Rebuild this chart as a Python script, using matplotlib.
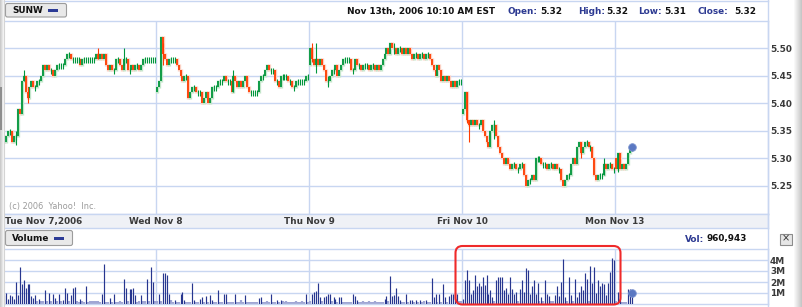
import numpy as np
import matplotlib
matplotlib.use("Agg")
import matplotlib.pyplot as plt
from matplotlib.patches import FancyBboxPatch, Rectangle

plt.rcParams['font.family'] = ['DejaVu Sans']

# ---------------- data ----------------
symbol = "SUNW"
header_time = "Nov 13th, 2006 10:10 AM EST"
quote_labels = ["Open:", "High:", "Low:", "Close:"]
quote_values = ["5.32", "5.32", "5.31", "5.32"]
last_volume_text = "960,943"
day_labels = ["Tue Nov 7,2006", "Wed Nov 8", "Thu Nov 9", "Fri Nov 10", "Mon Nov 13"]
price_ticks = [5.25, 5.30, 5.35, 5.40, 5.45, 5.50]
price_tick_labels = ["5.25", "5.30", "5.35", "5.40", "5.45", "5.50"]
vol_ticks = [1, 2, 3, 4]
vol_tick_labels = ["1M", "2M", "3M", "4M"]

day_opens = [5.34, 5.42, 5.47, 5.38, 5.30]

tue_close = [5.33, 5.34, 5.35, 5.35, 5.33, 5.34, 5.34, 5.39, 5.38, 5.44,
             5.45, 5.42, 5.41, 5.43, 5.44, 5.43, 5.43, 5.44, 5.44, 5.45,
             5.47, 5.46, 5.47, 5.46, 5.46, 5.45, 5.46, 5.47, 5.47, 5.47,
             5.47, 5.48, 5.49, 5.49, 5.48, 5.48, 5.48, 5.48, 5.48, 5.47,
             5.48, 5.48, 5.48, 5.48, 5.48, 5.48, 5.48, 5.49, 5.48, 5.49,
             5.48, 5.49, 5.47, 5.46, 5.47, 5.46, 5.46, 5.48, 5.48, 5.47,
             5.46, 5.48, 5.48, 5.46, 5.46, 5.47, 5.46, 5.47, 5.47, 5.46,
             5.47, 5.48, 5.48, 5.48, 5.48, 5.48, 5.48, 5.48]
wed_close = [5.43, 5.44, 5.52, 5.49, 5.48, 5.47, 5.48, 5.48, 5.48, 5.48,
             5.47, 5.46, 5.45, 5.44, 5.45, 5.45, 5.41, 5.42, 5.43, 5.43,
             5.42, 5.42, 5.42, 5.40, 5.41, 5.42, 5.40, 5.41, 5.43, 5.43,
             5.43, 5.44, 5.44, 5.44, 5.45, 5.44, 5.44, 5.44, 5.42, 5.45,
             5.44, 5.43, 5.44, 5.43, 5.44, 5.45, 5.43, 5.42, 5.42, 5.42,
             5.42, 5.42, 5.44, 5.45, 5.45, 5.46, 5.47, 5.46, 5.46, 5.46,
             5.44, 5.44, 5.43, 5.45, 5.45, 5.45, 5.45, 5.44, 5.44, 5.43,
             5.43, 5.44, 5.44, 5.44, 5.44, 5.44, 5.45, 5.45]
thu_close = [5.50, 5.48, 5.47, 5.48, 5.47, 5.48, 5.47, 5.46, 5.44, 5.44,
             5.45, 5.46, 5.46, 5.47, 5.45, 5.46, 5.47, 5.48, 5.48, 5.48,
             5.48, 5.46, 5.46, 5.48, 5.47, 5.47, 5.46, 5.47, 5.47, 5.47,
             5.46, 5.47, 5.47, 5.46, 5.47, 5.46, 5.47, 5.48, 5.49, 5.50,
             5.49, 5.51, 5.50, 5.50, 5.49, 5.50, 5.50, 5.49, 5.50, 5.49,
             5.50, 5.49, 5.48, 5.49, 5.49, 5.48, 5.49, 5.49, 5.48, 5.49,
             5.49, 5.48, 5.47, 5.46, 5.45, 5.47, 5.46, 5.44, 5.45, 5.44,
             5.45, 5.44, 5.43, 5.44, 5.43, 5.44, 5.44, 5.44]
fri_close = [5.39, 5.42, 5.37, 5.36, 5.37, 5.36, 5.37, 5.36, 5.36, 5.37,
             5.35, 5.34, 5.33, 5.32, 5.35, 5.36, 5.36, 5.34, 5.32, 5.31,
             5.30, 5.29, 5.30, 5.29, 5.28, 5.29, 5.29, 5.28, 5.28, 5.29,
             5.29, 5.27, 5.25, 5.26, 5.26, 5.27, 5.26, 5.30, 5.30, 5.30,
             5.29, 5.29, 5.29, 5.28, 5.29, 5.29, 5.28, 5.29, 5.28, 5.28,
             5.26, 5.25, 5.26, 5.27, 5.27, 5.29, 5.30, 5.29, 5.32, 5.33,
             5.31, 5.32, 5.33, 5.33, 5.32, 5.32, 5.30, 5.27, 5.26, 5.27,
             5.27, 5.27, 5.29, 5.28, 5.29, 5.29, 5.28, 5.28]
mon_close = [5.28, 5.31, 5.28, 5.29, 5.28, 5.29, 5.31, 5.32, 5.32]

# intrabar extremes that stick out beyond open/close (day, bar, low, high)
wick_day = [0, 0, 0, 0, 0, 1, 1, 2, 2, 2, 2, 3, 3, 3, 3, 3, 4]
wick_bar = [6, 10, 12, 48, 61, 3, 39, 1, 3, 9, 43, 2, 3, 16, 60, 72, 1]
wick_low = [5.325, 5.44, 5.40, 5.48, 5.47, 5.47, 5.42, 5.475, 5.455, 5.43, 5.49,
            5.365, 5.33, 5.335, 5.30, 5.27, 5.275]
wick_high = [5.35, 5.46, 5.43, 5.50, 5.50, 5.51, 5.46, 5.51, 5.51, 5.45, 5.51,
             5.42, 5.37, 5.37, 5.33, 5.30, 5.31]

# volume in millions of shares
tue_vol = [0.85, 1.0, 0.5, 0.85, 0.7, 0.5, 2.0, 0.8, 3.4, 1.8,
           2.15, 1.45, 1.8, 1.8, 0.7, 0.55, 0.85, 0.3, 0.5, 0.3,
           0.3, 1.3, 0.3, 1.0, 0.3, 0.95, 0.55, 0.3, 0.9, 0.3,
           0.4, 1.5, 1.0, 0.3, 0.85, 1.5, 1.55, 0.3, 0.2, 0.45,
           0.3, 0.2, 1.65, 0.2, 0.25, 0.25, 0.25, 0.25, 0.25, 0.2,
           0.9, 3.65, 0.2, 0.2, 0.55, 0.2, 0.9, 0.2, 0.2, 0.25,
           0.2, 2.3, 1.5, 0.3, 1.4, 1.4, 1.45, 0.85, 0.2, 0.3,
           0.85, 0.3, 0.3, 2.3, 0.3, 3.4, 2.0, 0.3]
wed_vol = [0.3, 0.95, 0.3, 2.8, 2.8, 2.65, 0.95, 0.35, 0.2, 0.4,
           0.2, 0.2, 0.9, 1.1, 0.4, 0.2, 0.2, 0.2, 1.9, 0.4,
           0.2, 0.2, 0.5, 0.65, 0.2, 0.7, 0.2, 0.8, 0.4, 0.2,
           0.2, 1.3, 0.2, 0.2, 0.9, 0.9, 0.2, 0.2, 0.2, 0.2,
           0.9, 0.2, 0.2, 0.35, 0.2, 0.8, 0.2, 0.2, 0.15, 0.2,
           0.2, 0.2, 0.55, 0.65, 0.2, 0.2, 0.3, 0.2, 0.95, 0.2,
           0.2, 0.4, 0.2, 0.4, 0.3, 0.2, 0.3, 0.2, 0.2, 0.2,
           0.2, 0.3, 0.2, 0.2, 0.3, 0.2, 0.95, 0.2]
thu_vol = [0.3, 0.95, 1.1, 1.2, 1.95, 0.67, 0.3, 0.67, 0.7, 0.95,
           0.95, 0.3, 0.67, 0.5, 0.2, 0.67, 0.67, 0.2, 0.2, 0.2,
           0.2, 0.2, 0.95, 0.7, 0.4, 0.2, 0.2, 0.25, 0.2, 0.2,
           0.25, 0.2, 0.2, 0.25, 0.2, 0.2, 0.2, 0.2, 0.45, 0.7,
           0.3, 2.55, 0.7, 0.8, 1.5, 0.7, 0.4, 0.2, 0.2, 0.95,
           0.2, 0.4, 0.4, 0.2, 0.4, 0.2, 0.4, 0.2, 0.3, 0.4,
           0.2, 0.2, 2.35, 0.67, 0.95, 0.2, 0.95, 0.2, 1.8, 0.67,
           0.2, 0.7, 0.95, 0.95, 1.0, 0.95, 0.3, 0.3]
fri_vol = [0.5, 2.2, 3.1, 2.2, 0.95, 1.3, 2.65, 1.6, 1.9, 1.6,
           2.45, 1.7, 2.65, 0.95, 1.3, 0.67, 0.3, 2.15, 2.5, 2.45,
           2.5, 1.25, 1.45, 0.95, 2.5, 1.35, 0.95, 1.1, 0.3, 1.35,
           2.2, 1.1, 3.25, 3.1, 0.95, 1.6, 2.2, 0.95, 1.9, 0.3,
           0.6, 0.3, 2.2, 0.95, 0.7, 0.3, 0.3, 0.8, 1.65, 0.7,
           2.0, 4.1, 0.67, 0.3, 2.5, 0.8, 0.3, 2.3, 0.67, 1.1,
           1.6, 1.3, 2.8, 2.3, 0.3, 3.45, 1.9, 3.4, 1.0, 2.2,
           1.6, 1.9, 1.85, 0.8, 1.9, 2.9, 4.2, 4.0]
mon_vol = [0.3, 1.1, 1.1, 0.2, 0.2, 0.2, 1.4, 1.4, 0.96]

day_closes = [tue_close, wed_close, thu_close, fri_close, mon_close]
day_vols = [tue_vol, wed_vol, thu_vol, fri_vol, mon_vol]
BARS_PER_DAY = 78

# ---------------- style ----------------
W, H = 802, 307
GRID = '#c8d6f1'
GREEN, RED = '#00963c', '#ff3c00'
GREEN_L, RED_L = '#c4e6cb', '#fcd0c2'
NAVY, NAVY_L = '#27368f', '#a0a6d4'
BLUE_TXT = '#2d3a92'
TXT = '#3a3a3a'
FS = 6.4

fig = plt.figure(figsize=(W / 100, H / 100), dpi=100)
fig.patch.set_facecolor('white')


def axes_px(x0, y0, x1, y1, **kw):
    return fig.add_axes([x0 / W, 1 - y1 / H, (x1 - x0) / W, (y1 - y0) / H], **kw)


def style_spines(ax):
    for s in ax.spines.values():
        s.set_color(GRID)
        s.set_linewidth(1.0)


def bar_x(day, idx):
    return day + (idx + 0.5) / BARS_PER_DAY


# ---------------- price panel ----------------
axp = axes_px(3, 21, 768, 214)
axp.set_xlim(0, 5)
axp.set_ylim(5.1987, 5.5496)
axp.set_xticks([1, 2, 3, 4])
axp.set_yticks(price_ticks)
axp.set_yticklabels(price_tick_labels, fontsize=FS, fontweight='bold', color=TXT)
axp.yaxis.tick_right()
axp.tick_params(axis='both', length=0, labelbottom=False, pad=1.5)
axp.grid(True, color=GRID, lw=1.0)
axp.set_axisbelow(True)
style_spines(axp)

body_x, body_lo, body_hi, body_c = [], [], [], []
thin_x, thin_c = [], []
bar_color = {}
for k, closes in enumerate(day_closes):
    prev = day_opens[k]
    for i, c in enumerate(closes):
        x = bar_x(k, i)
        if abs(c - prev) < 1e-9:
            thin_x.append(x)
            thin_c.append(c)
            bar_color[(k, i)] = GREEN
        else:
            body_x.append(x)
            body_lo.append(min(prev, c))
            body_hi.append(max(prev, c))
            col = GREEN if c > prev else RED
            body_c.append(col)
            bar_color[(k, i)] = col
        prev = c

body_lo = np.array(body_lo)
body_hi = np.array(body_hi)
halo_c = [GREEN_L if c == GREEN else RED_L for c in body_c]
axp.vlines(body_x, body_lo - 0.0015, body_hi + 0.0015, colors=halo_c, lw=2.4, zorder=2)
axp.vlines(body_x, body_lo, body_hi, colors=body_c, lw=1.3, zorder=3)
thin_c = np.array(thin_c)
axp.vlines(thin_x, thin_c - 0.0075, thin_c + 0.0035, colors=GREEN, lw=0.8, zorder=3)

wx = [bar_x(d, b) for d, b in zip(wick_day, wick_bar)]
wc = [bar_color.get((d, b), GREEN) for d, b in zip(wick_day, wick_bar)]
axp.vlines(wx, wick_low, wick_high, colors=wc, lw=0.8, zorder=3)

last_x = bar_x(4, len(mon_close) - 1)
axp.plot([last_x], [mon_close[-1]], 'o', ms=5.5, color='#5b78c2', mec='#7d94d0',
         mew=0.6, zorder=5, clip_on=False)

axp.text(0.008, 0.018, "(c) 2006  Yahoo!  Inc.", transform=axp.transAxes,
         fontsize=5.9, color='#9a9a9a', ha='left', va='bottom')

# ---------------- date band ----------------
axd = axes_px(3, 214, 768, 228)
axd.set_facecolor('#eff1f6')
axd.set_xlim(0, 5)
axd.set_ylim(0, 1)
axd.set_xticks([])
axd.set_yticks([])
style_spines(axd)
axd.text(2 / 765 * 5, 0.45, day_labels[0], fontsize=FS, fontweight='bold',
         color=TXT, ha='left', va='center')
for k in range(1, 5):
    axd.text(k, 0.45, day_labels[k], fontsize=FS, fontweight='bold',
             color=TXT, ha='center', va='center')

# ---------------- volume panel ----------------
axv = axes_px(3, 249, 768, 304)
axv.set_xlim(0, 5)
axv.set_ylim(0, 5)
axv.set_xticks([1, 2, 3, 4])
axv.set_yticks(vol_ticks)
axv.set_yticklabels(vol_tick_labels, fontsize=FS, fontweight='bold', color=TXT)
axv.yaxis.tick_right()
axv.tick_params(axis='both', length=0, labelbottom=False, pad=1.5)
axv.grid(True, color=GRID, lw=1.0)
axv.set_axisbelow(True)
style_spines(axv)

vx_big, vv_big, vx_small, vv_small = [], [], [], []
for k, vols in enumerate(day_vols):
    for i, v in enumerate(vols):
        x = bar_x(k, i)
        if v < 0.36:
            vx_small.append(x)
            vv_small.append(v)
        else:
            vx_big.append(x)
            vv_big.append(v)
axv.vlines(vx_small, 0, vv_small, colors=NAVY_L, lw=1.6, zorder=2)
axv.vlines(vx_big, 0, vv_big, colors=NAVY, lw=0.85, zorder=3)
axv.plot([last_x], [mon_vol[-1]], 'o', ms=5.5, color='#5b78c2', mec='#7d94d0',
         mew=0.6, zorder=5, clip_on=False)

# ---------------- overlay (pixel coordinates) ----------------
axo = fig.add_axes([0, 0, 1, 1], zorder=10)
axo.axis('off')
axo.patch.set_alpha(0)

# side margins
grad_l = np.linspace(0.78, 0.97, 8).reshape(1, -1)
axo.imshow(grad_l, extent=[0, 3.5, H, 0], cmap='gray', vmin=0, vmax=1, aspect='auto')
axo.add_patch(Rectangle((0, 87), 1.6, 43, color='#8e8e8e', lw=0))
grad_r = np.linspace(0.97, 0.78, 8).reshape(1, -1)
axo.imshow(grad_r, extent=[794, 802, H, 0], cmap='gray', vmin=0, vmax=1, aspect='auto')
axo.set_xlim(0, W)
axo.set_ylim(H, 0)

# frame lines
axo.plot([3.5, 768], [0.5, 0.5], color=GRID, lw=1.0)
axo.plot([768, 768], [0, H], color=GRID, lw=1.0)
axo.plot([3.5, 3.5], [0, H], color='#d4d4d4', lw=0.8)

# symbol button
axo.add_patch(FancyBboxPatch((5.5, 3.5), 61, 13.5, boxstyle="round,pad=0,rounding_size=2",
                             fc='#e9e9e9', ec='#9c9c9c', lw=0.8))
axo.text(12, 10.6, symbol, fontsize=FS, fontweight='bold', color='#111111',
         ha='left', va='center')
axo.add_patch(Rectangle((48, 9), 10, 3.2, color='#2c3b96', lw=0))

# header text
axo.text(347, 11.5, header_time, fontsize=FS, fontweight='bold', color='#111111',
         ha='left', va='center')
lab_x = [507, 578, 638, 698]
val_end_x = [562, 628, 686, 756]
for lx, vx, lab, val in zip(lab_x, val_end_x, quote_labels, quote_values):
    axo.text(lx, 11.5, lab, fontsize=FS, fontweight='bold', color=BLUE_TXT,
             ha='left', va='center')
    axo.text(vx, 11.5, val, fontsize=FS, fontweight='bold', color='#111111',
             ha='right', va='center')

# volume button
axo.add_patch(FancyBboxPatch((5.5, 230.5), 67, 15, boxstyle="round,pad=0,rounding_size=2",
                             fc='#e9e9e9', ec='#9c9c9c', lw=0.8))
axo.text(12, 238.2, "Volume", fontsize=FS, fontweight='bold', color='#111111',
         ha='left', va='center')
axo.add_patch(Rectangle((54, 236.5), 10, 3.2, color='#2c3b96', lw=0))

# last volume
axo.text(685, 239, "Vol:", fontsize=FS, fontweight='bold', color=BLUE_TXT,
         ha='left', va='center')
axo.text(747, 239, last_volume_text, fontsize=FS, fontweight='bold', color='#111111',
         ha='right', va='center')

# close button
axo.add_patch(Rectangle((779.5, 233.5), 12, 11, fc='#e6e6e6', ec='#8c8c8c', lw=0.8))
axo.text(785.5, 238.8, "×", fontsize=7, color='#333333', ha='center', va='center')

# red highlight box
axo.add_patch(FancyBboxPatch((455.5, 246), 165, 58.5, boxstyle="round,pad=0,rounding_size=7",
                             fc='none', ec='#ef2a2a', lw=1.5, zorder=20))

fig.savefig("out.png", dpi=100, facecolor='white')
